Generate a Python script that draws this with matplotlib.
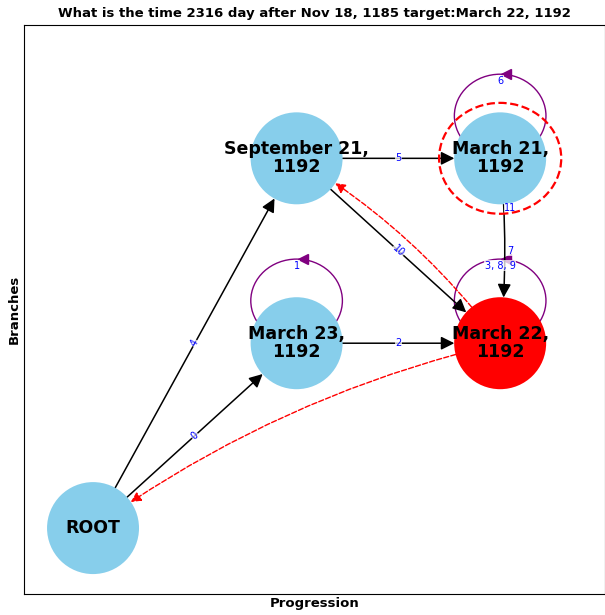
""" Plot a small date-progression graph with matplotlib only """

import math
import matplotlib
matplotlib.use("Agg")
import matplotlib.pyplot as plt
from matplotlib.patches import FancyArrowPatch, Circle

title = "What is the time 2316 day after Nov 18, 1185 target:March 22, 1192"

nodes = ["ROOT", "March 23, 1192", "September 21, 1192",
         "March 22, 1192", "March 21, 1192"]
node_labels = ["ROOT", "March 23,\n1192", "September 21,\n1192",
               "March 22,\n1192", "March 21,\n1192"]
node_x = [0, 1, 1, 2, 2]
node_y = [0, 1, 2, 1, 2]
node_colors = ["skyblue", "skyblue", "skyblue", "red", "skyblue"]

# (source, target, label)
edges = [
    ("ROOT", "March 23, 1192", "0"),
    ("March 23, 1192", "March 22, 1192", "2"),
    ("ROOT", "September 21, 1192", "4"),
    ("September 21, 1192", "March 21, 1192", "5"),
    ("September 21, 1192", "March 22, 1192", "10"),
]
curved_edge = ("March 21, 1192", "March 22, 1192")
curved_labels = [("7", 0.5), ("11", 0.27)]
loops = [("March 23, 1192", "1"), ("March 22, 1192", "3, 8, 9"),
         ("March 21, 1192", "6")]
back_edges = [("March 22, 1192", "September 21, 1192"),
              ("March 22, 1192", "ROOT")]
target_ring = "March 21, 1192"

pos = {n: (x, y) for n, x, y in zip(nodes, node_x, node_y)}
label_box = dict(facecolor="white", edgecolor="none", pad=0.5, alpha=0.75)

fig = plt.figure(figsize=(6.05, 6.15), dpi=100)
ax = fig.add_axes([0.0397, 0.034, 0.9603, 0.925])
ax.set_xlim(-0.339, 2.515)
ax.set_ylim(-0.357, 2.72)

# self loops
for n, lab in loops:
    x, y = pos[n]
    loop = Circle((x, y + 0.23), 0.225, fill=False, color="purple",
                  lw=1.0, zorder=1)
    ax.add_patch(loop)
    ax.plot(x + 0.03, y + 0.455, marker="<", color="purple",
            markersize=7, zorder=2)
    ax.text(x, y + 0.42, lab, color="blue", fontsize=7, ha="center",
            va="center", zorder=4, bbox=label_box)

# straight edges
for s, t, lab in edges:
    arr = FancyArrowPatch(pos[s], pos[t], arrowstyle="-|>",
                          mutation_scale=20, color="black", lw=1.1,
                          shrinkA=33, shrinkB=33, zorder=2)
    ax.add_patch(arr)
    (x1, y1), (x2, y2) = pos[s], pos[t]
    p1 = ax.transData.transform((x1, y1))
    p2 = ax.transData.transform((x2, y2))
    ang = math.degrees(math.atan2(p2[1] - p1[1], p2[0] - p1[0]))
    if ang > 90:
        ang -= 180
    if ang < -90:
        ang += 180
    ax.text((x1 + x2) / 2, (y1 + y2) / 2, lab, color="blue", fontsize=7,
            ha="center", va="center", rotation=ang, zorder=4,
            bbox=label_box)

# slightly curved edge between the right-hand nodes
s, t = curved_edge
arr = FancyArrowPatch(pos[s], pos[t], arrowstyle="-|>", mutation_scale=20,
                      color="black", lw=1.1, shrinkA=33, shrinkB=33,
                      connectionstyle="arc3,rad=-0.05", zorder=2)
ax.add_patch(arr)
for lab, frac in curved_labels:
    x = pos[s][0] + 0.05
    y = pos[s][1] + (pos[t][1] - pos[s][1]) * frac
    ax.text(x, y, lab, color="blue", fontsize=7, ha="center", va="center",
            zorder=4, bbox=label_box)

# red dashed back edges
for s, t in back_edges:
    arr = FancyArrowPatch(pos[s], pos[t], arrowstyle="-|>",
                          mutation_scale=15, color="red", lw=1.0,
                          linestyle="--", shrinkA=33, shrinkB=33,
                          connectionstyle="arc3,rad=0.1", zorder=2)
    ax.add_patch(arr)

# nodes
ax.scatter(node_x, node_y, s=4385, c=node_colors, zorder=3,
           edgecolors="none")
for lab, x, y in zip(node_labels, node_x, node_y):
    ax.text(x, y, lab, fontsize=12.5, fontweight="bold", ha="center",
            va="center", zorder=5, linespacing=1.0)

ring = Circle(pos[target_ring], 0.3, fill=False, color="red", lw=1.6,
              linestyle="--", zorder=4)
ax.add_patch(ring)

ax.set_xticks([])
ax.set_yticks([])
ax.set_title(title, fontsize=9.5, fontweight="bold", pad=6)
ax.set_xlabel("Progression", fontsize=9.5, fontweight="bold", labelpad=2)
ax.set_ylabel("Branches", fontsize=9.5, fontweight="bold", labelpad=2)

fig.savefig("out.png", dpi=100)
